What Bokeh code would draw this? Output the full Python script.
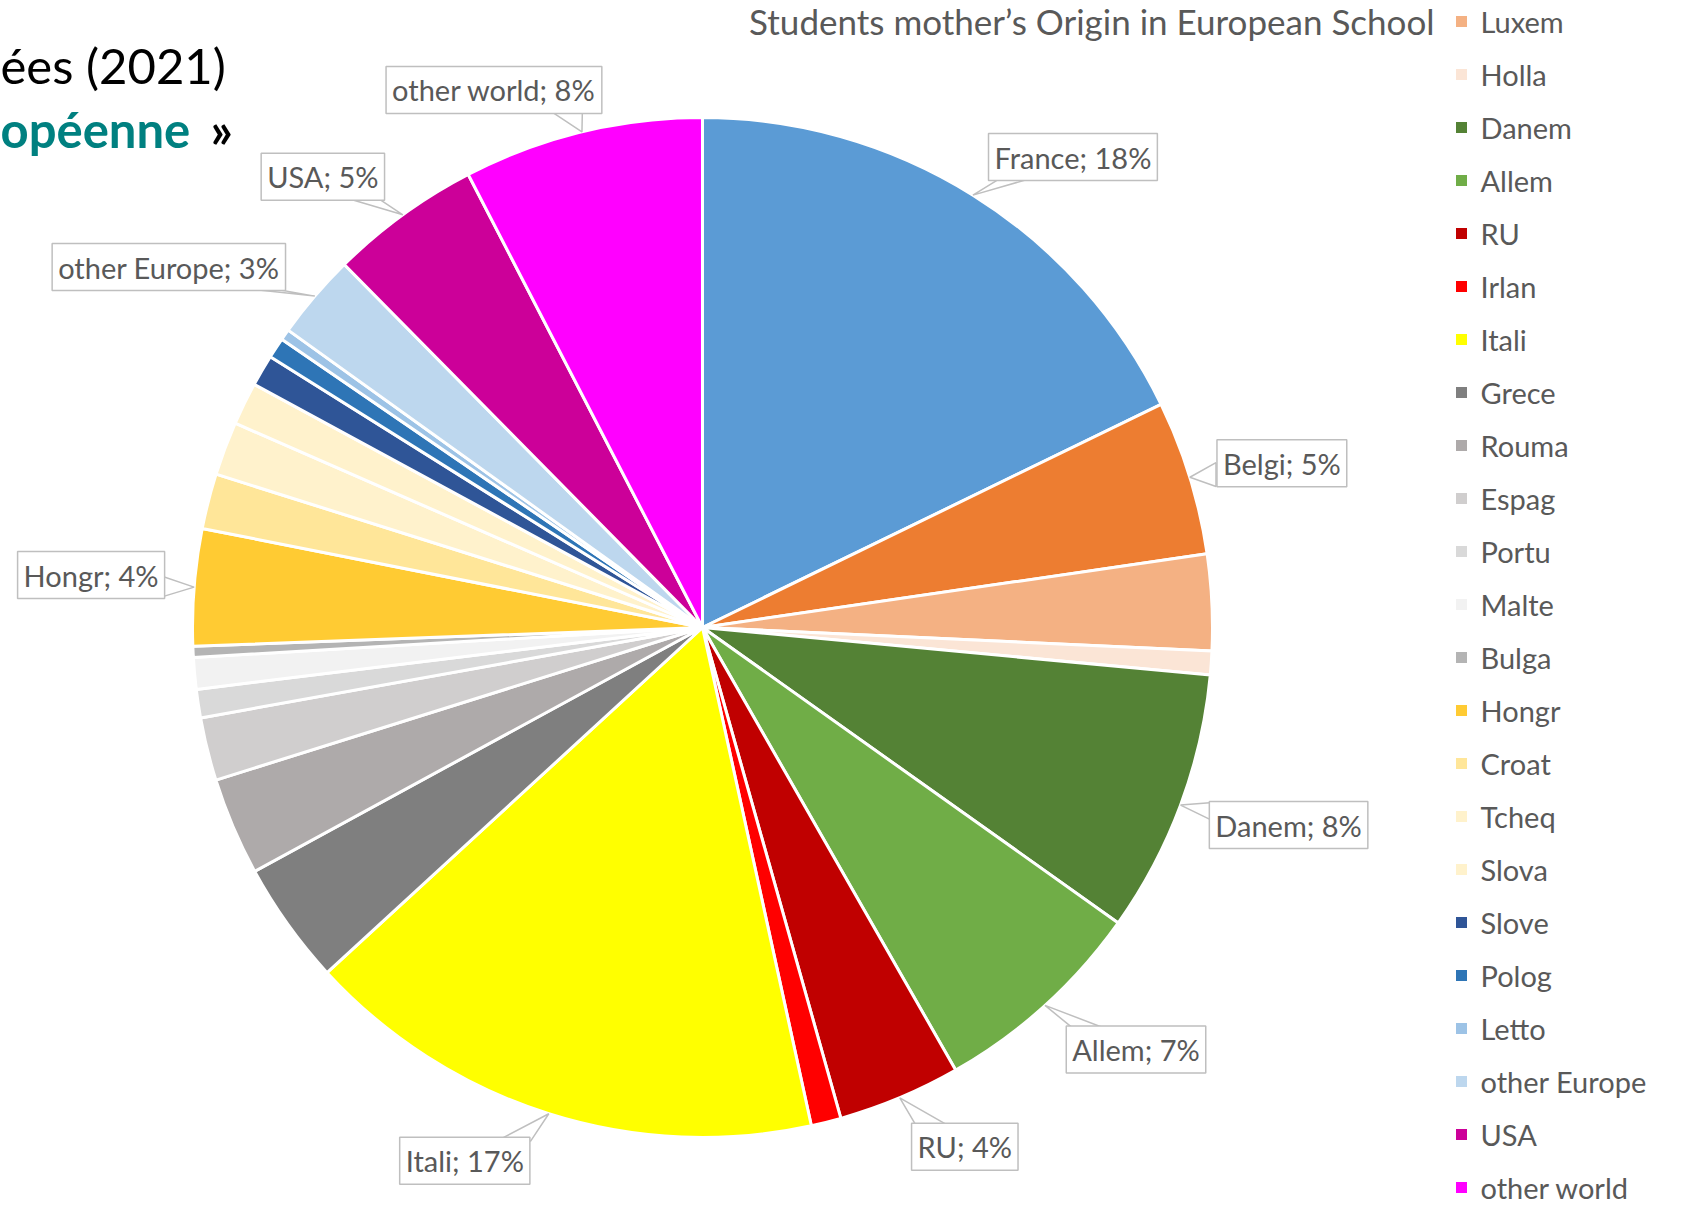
import numpy as np
from bokeh.plotting import figure
from bokeh.models import Range1d, Label, ColumnDataSource
from bokeh.core.properties import value
from bokeh.embed import file_html
from bokeh.resources import INLINE

# ---------------- data ----------------
countries = ["France", "Belgi", "Luxem", "Holla", "Danem", "Allem", "RU", "Irlan",
             "Itali", "Grece", "Rouma", "Espag", "Portu", "Malte", "Bulga", "Hongr",
             "Croat", "Tcheq", "Slova", "Slove", "Polog", "Letto", "other Europe",
             "USA", "other world"]
shares = [17.8, 4.9, 3.05, 0.75, 8.35, 6.9, 3.9, 0.95,
          16.6, 3.9, 3.1, 2.0, 0.9, 1.0, 0.35, 3.7,
          1.75, 1.7, 1.35, 1.0, 0.65, 0.35, 2.7,
          4.8, 7.6]
colors = ["#5B9BD5", "#ED7D31", "#F4B183", "#FBE5D6", "#548235", "#70AD47", "#C00000", "#FF0000",
          "#FFFF00", "#7F7F7F", "#AEAAAA", "#D0CECE", "#D9D9D9", "#F2F2F2", "#B4B4B4", "#FFCB33",
          "#FFE699", "#FFF2CC", "#FFF2CC", "#2F5597", "#2E75B6", "#9DC3E6", "#BDD7EE",
          "#CC0099", "#FF00FF"]
labelled = ["France", "Belgi", "Danem", "Allem", "RU", "Itali", "Hongr",
            "other Europe", "USA", "other world"]
# legend entries visible in the (clipped) reference legend
legend_items = countries[2:]
title_text = "Students mother\u2019s Origin in European School"
heading_line1 = "\u00e9es (2021)"
heading_line2 = "op\u00e9enne"
heading_tail = "\u00bb"

# ---------------- layout / style ----------------
W, H = 1681, 1208
CX, CY, R = 702, H - 627, 510
GREY_TXT = "#595959"
BOX_LINE = "#BFBFBF"
FONT = "Lato"
LBL_FS = 29
# label box offset from slice anchor (screen px, y down) and edge that carries the pointer
label_layout = {
    "France": (100, -38, "bottom"),
    "Belgi": (92, -14, "left"),
    "Danem": (108, 20, "left"),
    "Allem": (91, 44, "top"),
    "RU": (65, 49, "top"),
    "Itali": (-84, 47, "top"),
    "Hongr": (-103, -12, "right"),
    "other Europe": (-146, -29, "bottom"),
    "USA": (-80, -38, "bottom"),
    "other world": (-88, -42, "bottom"),
}

p = figure(width=W, height=H, x_range=Range1d(0, W), y_range=Range1d(0, H),
           output_backend="svg", toolbar_location=None, min_border=0,
           x_axis_type=None, y_axis_type=None, title=None)
p.grid.visible = False
p.outline_line_color = None
p.background_fill_color = "white"
p.border_fill_color = "white"

fr = np.array(shares, dtype=float) / float(sum(shares))
cum_end = np.cumsum(fr) * 2 * np.pi
cum_start = cum_end - fr * 2 * np.pi
src = ColumnDataSource(dict(start=np.pi / 2 - cum_start, end=np.pi / 2 - cum_end,
                            color=colors, name=countries))
p.wedge(x=CX, y=CY, radius=R, start_angle="start", end_angle="end", direction="clock",
        fill_color="color", line_color="white", line_width=3, source=src)

# ---------------- data labels (callouts) ----------------
PAD = 6
for name in labelled:
    i = countries.index(name)
    mid = (cum_start[i] + cum_end[i]) / 2
    ax = CX + R * np.sin(mid)
    ay = CY + R * np.cos(mid)
    pct = int(round(fr[i] * 100))
    txt = f"{name}; {pct}%"
    dx, dy, edge = label_layout[name]
    bx, by = ax + dx, ay - dy
    w = 0.52 * LBL_FS * len(txt) + 2 * PAD
    h = LBL_FS * 1.15 + 2 * PAD
    hb = 17
    if edge in ("bottom", "top"):
        ey = by - h / 2 + 3 if edge == "bottom" else by + h / 2 - 3
        bc = min(max(ax, bx - 0.3 * w), bx + 0.3 * w)
        xs = [bc - hb, bc + hb, ax]
        ys = [ey, ey, ay]
    else:
        ex = bx - w / 2 + 8 if edge == "left" else bx + w / 2 - 8
        bc = min(max(ay, by - 0.25 * h), by + 0.25 * h)
        xs = [ex, ex, ax]
        ys = [bc - hb * 0.7, bc + hb * 0.7, ay]
    p.patch(xs, ys, fill_color="white", line_color=BOX_LINE, line_width=1.5)
    p.add_layout(Label(x=bx, y=by, text=txt, text_align="center", text_baseline="middle",
                       text_font=FONT, text_font_size=f"{LBL_FS}px", text_color=GREY_TXT,
                       background_fill_color="white", border_line_color=BOX_LINE,
                       border_line_width=1.5, padding=PAD))

# ---------------- title ----------------
p.add_layout(Label(x=1434, y=H - 20, text=title_text, text_align="right",
                   text_baseline="middle", text_font=FONT, text_font_size="35px",
                   text_color=GREY_TXT))

# ---------------- heading fragments (top-left) ----------------
p.add_layout(Label(x=0, y=H - 64, text=heading_line1, text_align="left",
                   text_baseline="middle", text_font=FONT, text_font_size="49px",
                   text_color="black"))
p.add_layout(Label(x=0, y=H - 128, text=heading_line2, text_align="left",
                   text_baseline="middle", text_font=FONT, text_font_size="49px",
                   text_font_style="bold", text_color="#008080"))
p.add_layout(Label(x=210, y=H - 128, text=heading_tail, text_align="left",
                   text_baseline="middle", text_font=FONT, text_font_size="49px",
                   text_font_style="bold", text_color="black"))

# ---------------- legend ----------------
LEG_Y0 = H - 21
leg_y = [LEG_Y0 - k * 53.0 for k in range(len(legend_items))]
leg_colors = [colors[countries.index(n)] for n in legend_items]
leg_src = ColumnDataSource(dict(y=leg_y, color=leg_colors, name=legend_items))
p.rect(x=1461, y="y", width=11, height=11, fill_color="color", line_color=None, source=leg_src)
p.text(x=1480, y="y", text="name", text_baseline="middle", text_align="left",
       text_font=value(FONT), text_font_size="29px", text_color=GREY_TXT, source=leg_src)

open("out.html", "w").write(file_html(p, INLINE))
